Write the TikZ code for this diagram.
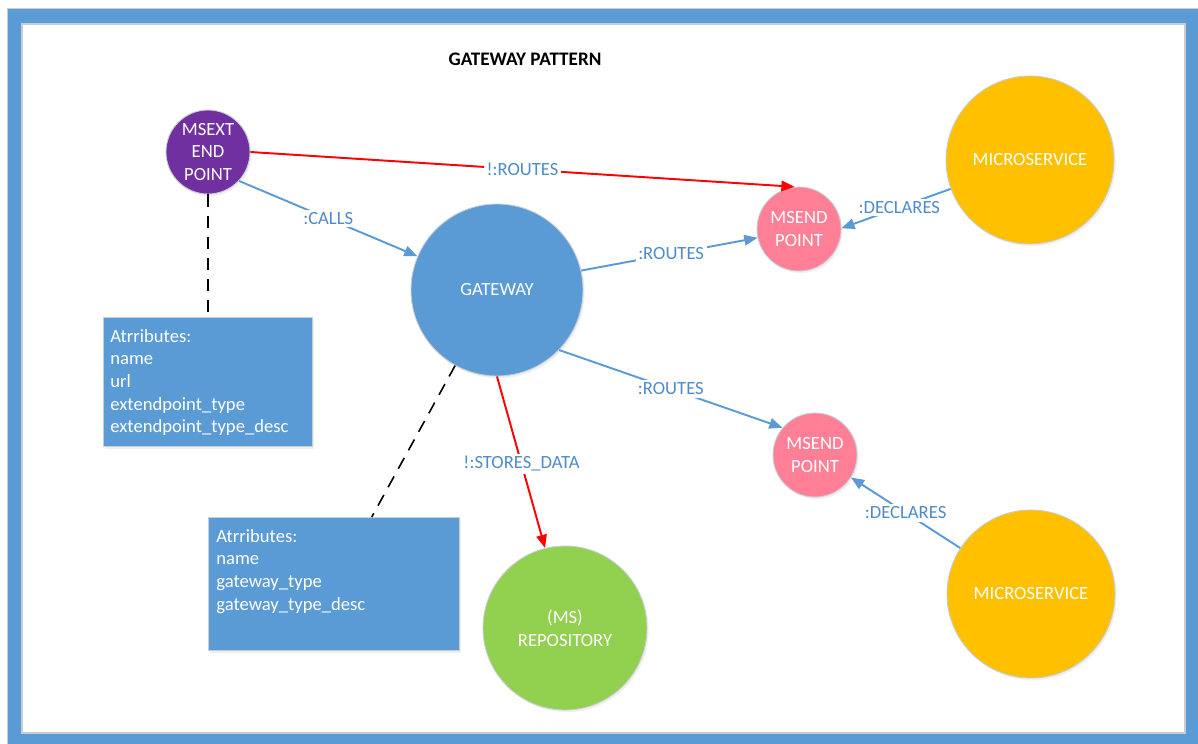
\documentclass[tikz,border=0pt]{standalone}
\usepackage{fontspec}
\setmainfont{Carlito}
\usetikzlibrary{arrows.meta,calc,shadows}
\definecolor{accblue}{HTML}{5B9BD5}
\definecolor{lblblue}{HTML}{4F8BC9}
\definecolor{mspurple}{HTML}{7030A0}
\definecolor{mspink}{HTML}{FF8096}
\definecolor{msorange}{HTML}{FFC000}
\definecolor{msgreen}{HTML}{92D050}
\definecolor{rimgray}{HTML}{C8CDD4}
\tikzset{
  txt/.style={font=\fontsize{10.6}{12.9}\selectfont},
  ball/.style={circle, draw=rimgray, line width=0.5pt, text=white, align=center,
    inner sep=0pt, txt,
    drop shadow={opacity=0.12, shadow xshift=1pt, shadow yshift=-1.2pt}},
  attrbox/.style={rectangle, fill=accblue, draw=rimgray, line width=0.5pt,
    inner sep=0pt, anchor=north west,
    drop shadow={opacity=0.12, shadow xshift=1pt, shadow yshift=-1.2pt}},
  attrtext/.style={txt, text=white, align=left, anchor=north west, inner sep=0pt},
  rel/.style={draw=accblue, line width=1.1pt, -{Triangle[length=7.5pt,width=6pt]}},
  neg/.style={draw=red, line width=1.1pt, -{Triangle[length=7.5pt,width=6pt]}},
  lbl/.style={txt, text=lblblue, fill=white, inner sep=1.5pt},
  note/.style={draw=black, line width=0.9pt, dash pattern=on 7pt off 5pt},
}
\begin{document}
\begin{tikzpicture}[x=0.02cm,y=-0.02cm]
  % page frame
  \useasboundingbox (0,0) rectangle (1198,744);
  \fill[white] (0,0) rectangle (1198,744);
  \fill[accblue, draw=rimgray, line width=0.4pt] (7,8) rectangle (1198,744);
  \fill[white, draw=rimgray, line width=0.6pt] (22,24) rectangle (1185,733);

  % title
  \node[font=\fontsize{10.9}{13}\selectfont\bfseries] (title) at (525,59) {GATEWAY PATTERN};

  % entities
  \node[ball, fill=mspurple, minimum size=84*0.02cm] (msext) at (208,152) {MSEXT\\END\\POINT};
  \node[ball, fill=accblue, minimum size=172*0.02cm] (gw) at (497,290) {GATEWAY};
  \node[ball, fill=mspink, minimum size=84*0.02cm] (epA) at (799,229) {MSEND\\POINT};
  \node[ball, fill=mspink, minimum size=84*0.02cm] (epB) at (815,455) {MSEND\\POINT};
  \node[ball, fill=msorange, minimum size=168*0.02cm] (msA) at (1030,160) {MICROSERVICE};
  \node[ball, fill=msorange, minimum size=168*0.02cm] (msB) at (1031,594) {MICROSERVICE};
  \node[ball, fill=msgreen, minimum size=164*0.02cm] (repo) at (565,628) {(MS)\\REPOSITORY};

  % attribute boxes
  \node[attrbox, minimum width=209*0.02cm, minimum height=129*0.02cm] (boxA) at (103,317) {};
  \node[attrtext] (boxAt) at ($(boxA.north west)+(7,12)$)
    {Atrributes:\\name\\url\\extendpoint\_type\\extendpoint\_type\_desc};
  \node[attrbox, minimum width=251*0.02cm, minimum height=133*0.02cm] (boxB) at (208,517) {};
  \node[attrtext] (boxBt) at ($(boxB.north west)+(8,12)$)
    {Atrributes:\\name\\gateway\_type\\gateway\_type\_desc};

  % attribute links
  \draw[note] (msext.south) -- (msext.south |- boxA.north);
  \draw[note] (gw.-119) -- ($(boxB.north west)!0.65!(boxB.north east)$);

  % relationships
  \draw[neg] (msext.east) -- node[lbl, pos=0.5] {!:ROUTES} (epA.96);
  \draw[rel] (msext.-43) -- node[lbl, pos=0.5] {:CALLS} (gw.157);
  \draw[rel] (gw.13) -- node[lbl, pos=0.51] {:ROUTES} (epA.192);
  \draw[rel] (gw.-44) -- node[lbl, pos=0.5] {:ROUTES} (epB.140);
  \draw[neg] (gw.-90) -- node[lbl, pos=0.51] {!:STORES\_DATA} (repo.104);
  \draw[rel] (msA.200) -- node[lbl, pos=0.47] {:DECLARES} (epA.1);
  \draw[rel] (msB.147) -- node[lbl, pos=0.5] {:DECLARES} (epB.-32);
\end{tikzpicture}
\end{document}
